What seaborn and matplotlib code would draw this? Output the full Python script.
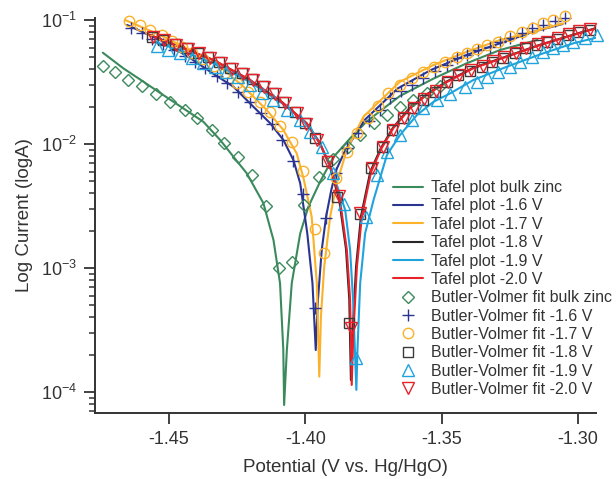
import matplotlib
matplotlib.use('Agg')
import matplotlib.pyplot as plt
import seaborn as sns
from matplotlib.ticker import FixedLocator, FormatStrFormatter, LogLocator, NullFormatter

# Tafel plots (lines): potential (V vs. Hg/HgO) and current
tafel_zinc_v = [-1.4743, -1.4668, -1.4594, -1.4521, -1.4448, -1.4374, -1.4313, -1.4264, -1.4215, -1.4154,
                -1.4117, -1.4093, -1.4081, -1.4078, -1.4068, -1.4050, -1.4019, -1.3989, -1.3946, -1.3897,
                -1.3836, -1.3775, -1.3701, -1.3653, -1.3530, -1.3408, -1.3286, -1.3149]
tafel_zinc_i = [0.0545, 0.0408, 0.0318, 0.0248, 0.0194, 0.0151, 0.0108, 0.0079, 0.0058, 0.00333,
                0.00168, 0.000753, 0.000218, 0.0000785, 0.000218, 0.000753, 0.0019, 0.00312, 0.00497, 0.00785,
                0.0111, 0.0152, 0.0203, 0.0244, 0.0337, 0.0448, 0.0573, 0.069]

tafel_16_v = [-1.4654, -1.4533, -1.4423, -1.4331, -1.4264, -1.4191, -1.4129, -1.4081, -1.4044, -1.4019,
              -1.3993, -1.3974, -1.3962, -1.3954, -1.3940, -1.3924, -1.3905, -1.3887, -1.3856, -1.3783,
              -1.3661, -1.3540, -1.3408, -1.3286, -1.3163, -1.3057]
tafel_16_i = [0.0912, 0.069, 0.0494, 0.036, 0.029, 0.020, 0.0147, 0.0108, 0.00743, 0.00482,
              0.0019, 0.000753, 0.000218, 0.000552, 0.0014, 0.0026, 0.00426, 0.00617, 0.00867, 0.0156,
              0.0281, 0.0395, 0.0523, 0.0649, 0.0805, 0.0928]

tafel_17_v = [-1.4661, -1.4533, -1.4423, -1.4313, -1.4227, -1.4142, -1.4081, -1.4032, -1.4007, -1.3977,
              -1.3958, -1.3949, -1.3943, -1.3931, -1.3909, -1.3885, -1.3848, -1.3787, -1.3653, -1.3530,
              -1.3408, -1.3286, -1.3163, -1.3054]
tafel_17_i = [0.100, 0.0757, 0.0573, 0.042, 0.029, 0.0188, 0.013, 0.0084, 0.00532, 0.0026,
              0.000753, 0.000133, 0.000404, 0.00102, 0.0026, 0.00482, 0.00895, 0.0166, 0.0318, 0.0434,
              0.0554, 0.069, 0.0805, 0.094]

tafel_18_v = [-1.4572, -1.4462, -1.4339, -1.4205, -1.4083, -1.3997, -1.3948, -1.3911, -1.3876, -1.3851,
              -1.3839, -1.3833, -1.3827, -1.3814, -1.3796, -1.3762, -1.3724, -1.3679, -1.3618, -1.3557,
              -1.3483, -1.3386, -1.3263, -1.3141, -1.3019, -1.2943]
tafel_18_i = [0.0760, 0.0608, 0.0478, 0.0330, 0.0215, 0.0148, 0.0102, 0.0067, 0.00355, 0.00142,
              0.00056, 0.000125, 0.00030, 0.00103, 0.00262, 0.00598, 0.00918, 0.0135, 0.0195, 0.0250,
              0.0318, 0.0410, 0.0508, 0.0630, 0.0760, 0.0850]

tafel_19_v = [-1.4551, -1.4441, -1.4331, -1.4203, -1.4081, -1.3995, -1.3946, -1.3897, -1.3854, -1.3836,
              -1.3825, -1.3813, -1.3809, -1.3799, -1.3781, -1.3750, -1.3701, -1.3653, -1.3591, -1.3530,
              -1.3469, -1.3384, -1.3261, -1.3139, -1.3017, -1.2919]
tafel_19_i = [0.0665, 0.0552, 0.0441, 0.0316, 0.0210, 0.0145, 0.0102, 0.00562, 0.00294, 0.0014,
              0.000552, 0.000104, 0.000218, 0.000753, 0.0019, 0.00353, 0.00815, 0.0118, 0.0171, 0.0219,
              0.0256, 0.0328, 0.042, 0.0528, 0.0649, 0.0733]

tafel_20_v = [-1.4570, -1.4460, -1.4337, -1.4203, -1.4081, -1.3995, -1.3946, -1.3909, -1.3873, -1.3848,
              -1.3836, -1.3830, -1.3824, -1.3811, -1.3793, -1.3759, -1.3722, -1.3677, -1.3616, -1.3555,
              -1.3481, -1.3384, -1.3261, -1.3139, -1.3017, -1.2941]
tafel_20_i = [0.0757, 0.0605, 0.0476, 0.0328, 0.0213, 0.0147, 0.0101, 0.00665, 0.00353, 0.0014,
              0.000552, 0.000114, 0.000299, 0.00102, 0.0026, 0.00594, 0.00912, 0.01346, 0.0194, 0.0249,
              0.0316, 0.0408, 0.0506, 0.0628, 0.0757, 0.0846]

# Butler-Volmer fits (markers)
bv_zinc_v = [-1.4743, -1.4698, -1.4649, -1.4600, -1.4549, -1.4496, -1.4441, -1.4396, -1.4343, -1.4297,
             -1.4246, -1.4194, -1.4145, -1.4096, -1.4050, -1.4004, -1.3949, -1.3897, -1.3842, -1.3799,
             -1.3748, -1.3701, -1.3653, -1.3604, -1.3555, -1.3506]
bv_zinc_i = [0.0428, 0.0383, 0.0328, 0.0294, 0.0252, 0.0219, 0.0188, 0.0161, 0.0130, 0.0102,
             0.0079, 0.00562, 0.00316, 0.00100, 0.00112, 0.00322, 0.00544, 0.00757, 0.0095, 0.0118,
             0.0147, 0.0171, 0.0200, 0.0226, 0.0260, 0.0294]

bv_16_v = [-1.4641, -1.4600, -1.4562, -1.4522, -1.4482, -1.4441, -1.4405, -1.4368, -1.4325, -1.4288,
           -1.4246, -1.4203, -1.4164, -1.4123, -1.4087, -1.4044, -1.4007, -1.3964, -1.3924, -1.3887,
           -1.3848, -1.3806, -1.3766, -1.3726, -1.3689, -1.3649, -1.3610, -1.3567, -1.3524, -1.3481,
           -1.3445, -1.3408, -1.3365, -1.3322, -1.3286, -1.3249, -1.3206, -1.3169, -1.3127, -1.3084,
           -1.3047]
bv_16_i = [0.0857, 0.0781, 0.0709, 0.064, 0.0573, 0.0513, 0.0461, 0.0408, 0.0353, 0.0309,
           0.0263, 0.0218, 0.0177, 0.0145, 0.0108, 0.0073, 0.00395, 0.000473, 0.00252, 0.00587,
           0.00929, 0.0122, 0.0153, 0.0188, 0.0234, 0.0268, 0.0299, 0.0339, 0.0388, 0.0434,
           0.0491, 0.0523, 0.0573, 0.0609, 0.0669, 0.0712, 0.0781, 0.0857, 0.0912, 0.098,
           0.1044]

bv_17_v = [-1.4646, -1.4606, -1.4570, -1.4527, -1.4489, -1.4452, -1.4416, -1.4375, -1.4335, -1.4295,
           -1.4252, -1.4209, -1.4166, -1.4129, -1.4093, -1.4050, -1.4007, -1.3964, -1.3930, -1.3887,
           -1.3848, -1.3810, -1.3769, -1.3733, -1.3696, -1.3653, -1.3610, -1.3567, -1.3530, -1.3488,
           -1.3445, -1.3408, -1.3371, -1.3335, -1.3292, -1.3249, -1.3206, -1.3164, -1.3127, -1.3090,
           -1.3047]
bv_17_i = [0.0983, 0.0912, 0.0831, 0.0757, 0.0677, 0.0605, 0.0542, 0.0485, 0.0426, 0.0372,
           0.0312, 0.0264, 0.0218, 0.0182, 0.014, 0.0104, 0.0061, 0.00207, 0.00133, 0.00529,
           0.00867, 0.0123, 0.0161, 0.0203, 0.0258, 0.0299, 0.0339, 0.0383, 0.042, 0.0461,
           0.05, 0.0539, 0.058, 0.0628, 0.0669, 0.0739, 0.080, 0.0857, 0.094, 0.100,
           0.1087]

bv_18_v = [-1.4563, -1.4521, -1.4478, -1.4435, -1.4395, -1.4356, -1.4317, -1.4276, -1.4233, -1.4197,
           -1.4157, -1.4117, -1.4081, -1.4038, -1.4001, -1.3964, -1.3921, -1.3883, -1.3839, -1.3799,
           -1.3759, -1.3720, -1.3683, -1.3643, -1.3604, -1.3567, -1.3524, -1.3481, -1.3439, -1.3396,
           -1.3353, -1.3316, -1.3274, -1.3231, -1.3194, -1.3151, -1.3114, -1.3078, -1.3035, -1.2999,
           -1.2956]
bv_18_i = [0.0733, 0.069, 0.064, 0.0591, 0.0547, 0.0506, 0.0458, 0.0412, 0.0372, 0.0334,
           0.0292, 0.0256, 0.0219, 0.0182, 0.0147, 0.0111, 0.0073, 0.00376, 0.000358, 0.00273,
           0.00637, 0.0095, 0.013, 0.0161, 0.0194, 0.0226, 0.0264, 0.0316, 0.0357, 0.0388,
           0.042, 0.0461, 0.0497, 0.0539, 0.0591, 0.0628, 0.0661, 0.0703, 0.0757, 0.0805,
           0.0831]

bv_19_v = [-1.4545, -1.4503, -1.4460, -1.4417, -1.4375, -1.4333, -1.4291, -1.4246, -1.4203, -1.4160,
           -1.4117, -1.4068, -1.4019, -1.3983, -1.3940, -1.3898, -1.3858, -1.3814, -1.3777, -1.3738,
           -1.3699, -1.3653, -1.3610, -1.3567, -1.3518, -1.3469, -1.3414, -1.3371, -1.3335, -1.3292,
           -1.3249, -1.3212, -1.3169, -1.3127, -1.3090, -1.3054, -1.3017, -1.2974, -1.2931]
bv_19_i = [0.0623, 0.0578, 0.0537, 0.0494, 0.0454, 0.0418, 0.0381, 0.0344, 0.0299, 0.0258,
           0.0226, 0.0188, 0.0156, 0.0126, 0.00946, 0.00583, 0.00328, 0.000187, 0.0026, 0.00562,
           0.00862, 0.0118, 0.0156, 0.0194, 0.0226, 0.0255, 0.029, 0.0318, 0.0349, 0.0383,
           0.042, 0.0461, 0.0506, 0.0549, 0.0591, 0.0628, 0.0669, 0.0712, 0.0757]

bv_20_v = [-1.4559, -1.4517, -1.4474, -1.4430, -1.4390, -1.4350, -1.4309, -1.4269, -1.4229, -1.4192,
           -1.4151, -1.4111, -1.4074, -1.4032, -1.3996, -1.3957, -1.3916, -1.3875, -1.3833, -1.3799,
           -1.3756, -1.3717, -1.3680, -1.3640, -1.3601, -1.3565, -1.3521, -1.3478, -1.3436, -1.3392,
           -1.3350, -1.3313, -1.3271, -1.3227, -1.3190, -1.3148, -1.3112, -1.3075, -1.3033, -1.2996,
           -1.2956]
bv_20_i = [0.0729, 0.0684, 0.0634, 0.0583, 0.0542, 0.0498, 0.045, 0.0406, 0.0367, 0.0328,
           0.0288, 0.0253, 0.0216, 0.0179, 0.0145, 0.0108, 0.0072, 0.00381, 0.000327, 0.00276,
           0.00637, 0.00946, 0.013, 0.0162, 0.0195, 0.0229, 0.0268, 0.0319, 0.036, 0.0392,
           0.0426, 0.0467, 0.0503, 0.0547, 0.060, 0.064, 0.0671, 0.0716, 0.0771, 0.0823,
           0.0846]

x_ticks = [-1.45, -1.40, -1.35, -1.30]

GREEN = '#3b8a5c'
NAVY = '#2b3590'
ORANGE = '#fbb12a'
BLACK = '#2a2627'
CYAN = '#1fa3dc'
RED = '#e8222b'
TEXT = '#333333'


def generate_plot():
    sns.set_theme(style='ticks')
    plt.rcParams['font.family'] = ['Liberation Sans', 'DejaVu Sans']
    plt.rcParams['mathtext.default'] = 'regular'
    plt.rcParams['axes.unicode_minus'] = False

    fig = plt.figure(figsize=(6.16, 4.79), dpi=100)
    ax = fig.add_axes([0.155, 0.1378, 0.8125, 0.8246])

    lines = [
        (tafel_zinc_v, tafel_zinc_i, GREEN, 'Tafel plot bulk zinc'),
        (tafel_16_v, tafel_16_i, NAVY, 'Tafel plot -1.6 V'),
        (tafel_17_v, tafel_17_i, ORANGE, 'Tafel plot -1.7 V'),
        (tafel_18_v, tafel_18_i, BLACK, 'Tafel plot -1.8 V'),
        (tafel_19_v, tafel_19_i, CYAN, 'Tafel plot -1.9 V'),
        (tafel_20_v, tafel_20_i, RED, 'Tafel plot -2.0 V'),
    ]
    for v, i, c, lab in lines:
        sns.lineplot(x=v, y=i, ax=ax, estimator=None, sort=False, color=c, linewidth=1.5, label=lab)

    fits = [
        (bv_zinc_v, bv_zinc_i, GREEN, 'D', 6.6, 'Butler-Volmer fit bulk zinc'),
        (bv_16_v, bv_16_i, NAVY, '+', 8.5, 'Butler-Volmer fit -1.6 V'),
        (bv_17_v, bv_17_i, ORANGE, 'o', 7.5, 'Butler-Volmer fit -1.7 V'),
        (bv_18_v, bv_18_i, '#3a3a3a', 's', 7.0, 'Butler-Volmer fit -1.8 V'),
        (bv_19_v, bv_19_i, CYAN, '^', 8.5, 'Butler-Volmer fit -1.9 V'),
        (bv_20_v, bv_20_i, RED, 'v', 8.5, 'Butler-Volmer fit -2.0 V'),
    ]
    for v, i, c, m, ms, lab in fits:
        sns.lineplot(x=v, y=i, ax=ax, estimator=None, sort=False, color=c, linestyle='',
                     marker=m, markersize=ms, markerfacecolor='none', markeredgecolor=c,
                     markeredgewidth=1.0, label=lab, clip_on=False)

    ax.set_yscale('log')
    ax.set_xlim(-1.477, -1.2934)
    ax.set_ylim(6.77e-5, 0.1038)
    ax.xaxis.set_major_locator(FixedLocator(x_ticks))
    ax.xaxis.set_major_formatter(FormatStrFormatter('%.2f'))
    ax.yaxis.set_major_locator(LogLocator(base=10))
    ax.yaxis.set_minor_locator(LogLocator(base=10, subs=range(2, 10)))
    ax.yaxis.set_minor_formatter(NullFormatter())

    sns.despine(ax=ax)
    for side in ['left', 'bottom']:
        ax.spines[side].set_color(TEXT)
        ax.spines[side].set_linewidth(1.4)
    ax.tick_params(axis='both', which='major', direction='out', length=8, width=1.3,
                   color=TEXT, labelcolor=TEXT, labelsize=13, pad=5)
    ax.tick_params(axis='y', which='minor', direction='out', length=4, width=1.1, color=TEXT)

    ax.set_xlabel('Potential (V vs. Hg/HgO)', fontsize=13.5, color=TEXT, labelpad=8)
    ax.set_ylabel('Log Current (logA)', fontsize=13.5, color=TEXT, labelpad=6)

    handles, labels = ax.get_legend_handles_labels()
    ax.legend(handles, labels, loc='upper left', bbox_to_anchor=(0.638, 0.624),
              bbox_transform=fig.transFigure, frameon=False, fontsize=11.5,
              handlelength=1.9, handletextpad=0.45, labelspacing=0.21,
              borderpad=0, borderaxespad=0, labelcolor=TEXT)

    fig.savefig('out.png', dpi=100)


def main():
    generate_plot()


if __name__ == '__main__':
    main()
